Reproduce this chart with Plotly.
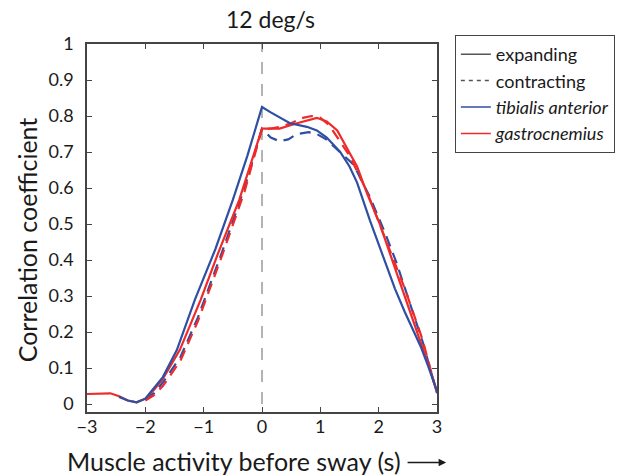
import plotly.graph_objects as go

# ---- data ----
ta_exp_x = [-2.45, -2.3, -2.15, -2.0, -1.9, -1.7, -1.46, -1.15, -0.8, -0.5, -0.25, 0.0,
            0.15, 0.31, 0.48, 0.77, 0.94, 1.11, 1.34, 1.5, 1.63, 1.85, 2.05, 2.28, 2.45, 2.59, 2.72, 2.85, 3.0]
ta_exp_y = [0.02, 0.01, 0.005, 0.015, 0.035, 0.075, 0.15, 0.29, 0.43, 0.567, 0.69, 0.825,
            0.81, 0.795, 0.78, 0.77, 0.76, 0.74, 0.70, 0.66, 0.615, 0.51, 0.42, 0.32, 0.255, 0.205, 0.16, 0.105, 0.035]

ga_exp_x = [-3.0, -2.8, -2.6, -2.45, -2.3, -2.15, -2.0, -1.85, -1.7, -1.41, -1.05, -0.75, -0.39, 0.0,
            0.15, 0.3, 0.6, 0.8, 0.94, 1.11, 1.29, 1.46, 1.63, 1.8, 2.02, 2.2, 2.45, 2.71, 2.85, 3.0]
ga_exp_y = [0.028, 0.03, 0.03, 0.022, 0.01, 0.005, 0.015, 0.04, 0.07, 0.15, 0.29, 0.42, 0.567, 0.765,
            0.765, 0.765, 0.78, 0.79, 0.795, 0.785, 0.76, 0.71, 0.66, 0.585, 0.50, 0.415, 0.30, 0.175, 0.11, 0.035]

ta_con_x = [-2.0, -1.85, -1.7, -1.4, -1.1, -0.69, -0.3, 0.0, 0.15, 0.3, 0.45, 0.6, 0.8, 0.94,
            1.1, 1.34, 1.57, 1.85, 2.11, 2.3, 2.5, 2.76, 3.0]
ta_con_y = [0.015, 0.03, 0.06, 0.13, 0.24, 0.42, 0.60, 0.765, 0.74, 0.73, 0.735, 0.75, 0.755, 0.75,
            0.735, 0.70, 0.665, 0.575, 0.475, 0.395, 0.30, 0.17, 0.03]

ga_con_x = [-2.0, -1.85, -1.7, -1.4, -1.1, -0.69, -0.3, 0.0, 0.15, 0.3, 0.5, 0.7, 0.85, 1.0,
            1.15, 1.3, 1.5, 1.8, 2.1, 2.45, 2.75, 3.0]
ga_con_y = [0.01, 0.025, 0.05, 0.12, 0.23, 0.41, 0.59, 0.765, 0.765, 0.77, 0.78, 0.795, 0.80, 0.795,
            0.775, 0.74, 0.69, 0.59, 0.465, 0.32, 0.18, 0.03]

x_ticks = [-3, -2, -1, 0, 1, 2, 3]
y_ticks = [0, 0.1, 0.2, 0.3, 0.4, 0.5, 0.6, 0.7, 0.8, 0.9, 1]
y_tick_text = ["0", "0.1", "0.2", "0.3", "0.4", "0.5", "0.6", "0.7", "0.8", "0.9", "1"]

BLUE = "#2f4fa3"
RED = "#ee2a2a"
FONT = "Lato"
TXT = "#1a1a1a"
DASH = "11px,7px"

fig = go.Figure()

# data curves
fig.add_trace(go.Scatter(x=ta_con_x, y=ta_con_y, mode="lines", showlegend=False,
                         line=dict(color=BLUE, width=2.2, dash=DASH)))
fig.add_trace(go.Scatter(x=ga_con_x, y=ga_con_y, mode="lines", showlegend=False,
                         line=dict(color=RED, width=2.2, dash=DASH)))
fig.add_trace(go.Scatter(x=ga_exp_x, y=ga_exp_y, mode="lines", showlegend=False,
                         line=dict(color=RED, width=2.2)))
fig.add_trace(go.Scatter(x=ta_exp_x, y=ta_exp_y, mode="lines", showlegend=False,
                         line=dict(color=BLUE, width=2.2)))

# legend-only entries
fig.add_trace(go.Scatter(x=[None], y=[None], mode="lines", name="expanding",
                         line=dict(color="#555555", width=1.5)))
fig.add_trace(go.Scatter(x=[None], y=[None], mode="lines", name="contracting",
                         line=dict(color="#555555", width=1.5, dash="4px,4px")))
fig.add_trace(go.Scatter(x=[None], y=[None], mode="lines", name="<i>tibialis anterior</i>",
                         line=dict(color=BLUE, width=1.5)))
fig.add_trace(go.Scatter(x=[None], y=[None], mode="lines", name="<i>gastrocnemius</i>",
                         line=dict(color=RED, width=1.5)))

# vertical reference line at movement onset
fig.add_shape(type="line", xref="x", yref="y", x0=0, x1=0, y0=0, y1=1,
              line=dict(color="#9a9a9a", width=1.5, dash="12px,10px"), layer="below")

fig.update_layout(
    width=624, height=476,
    margin=dict(l=87, r=187, t=44, b=64, autoexpand=False),
    paper_bgcolor="white", plot_bgcolor="white",
    font=dict(family=FONT, size=18, color=TXT),
    showlegend=True,
    legend=dict(x=1.051, y=1.0245, xanchor="left", yanchor="top",
                bordercolor="#444444", borderwidth=1, bgcolor="white",
                font=dict(family=FONT, size=18, color=TXT),
                tracegroupgap=0),
)

fig.update_xaxes(range=[-3, 3], tickvals=x_ticks, ticks="inside", ticklen=5,
                 tickcolor="#444444", linecolor="#444444", linewidth=1.5, mirror="ticks",
                 showgrid=False, zeroline=False, showline=True, ticklabelstandoff=-2,
                 tickfont=dict(family=FONT, size=18, color=TXT))
fig.update_yaxes(range=[-0.022, 1.0], tickvals=y_ticks, ticktext=y_tick_text, ticks="inside", ticklen=5,
                 tickcolor="#444444", linecolor="#444444", linewidth=1.5, mirror="ticks",
                 showgrid=False, zeroline=False, showline=True, ticklabelstandoff=8,
                 tickfont=dict(family=FONT, size=18, color=TXT))

# titles
fig.add_annotation(text="12 deg/s", xref="paper", yref="paper", x=0.523, y=1.0,
                   xanchor="center", yanchor="middle", yshift=25, showarrow=False,
                   font=dict(family=FONT, size=23, color=TXT))
fig.add_annotation(text="Correlation coefficient", xref="paper", yref="paper",
                   x=-0.171, y=0.467, xanchor="center", yanchor="middle",
                   textangle=-90, showarrow=False,
                   font=dict(family=FONT, size=25, color=TXT))
fig.add_annotation(text="Muscle activity before sway (s)", xref="paper", yref="paper",
                   x=0.42, y=-0.132, xanchor="center", yanchor="middle", showarrow=False,
                   font=dict(family=FONT, size=25, color=TXT))
fig.add_annotation(text="", xref="paper", yref="paper", x=1.026, y=-0.137,
                   ax=-40, ay=0, showarrow=True, arrowhead=2, arrowsize=1,
                   arrowwidth=1.5, arrowcolor=TXT)

fig.write_html("out.html")
